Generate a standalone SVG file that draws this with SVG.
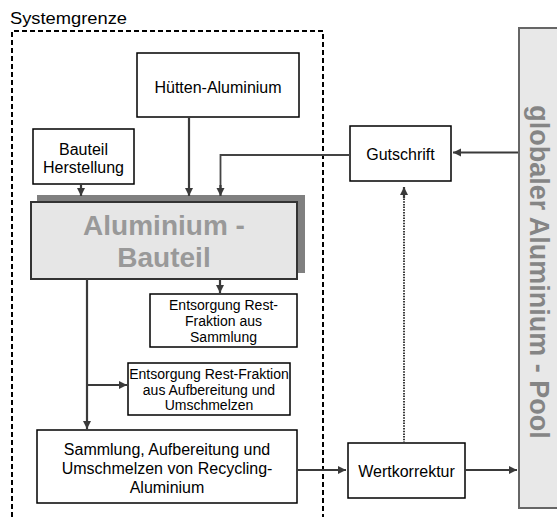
<svg xmlns="http://www.w3.org/2000/svg" width="557" height="517" viewBox="0 0 557 517">
<style>
text{font-family:"Liberation Sans",Arial,sans-serif;fill:#000;text-anchor:middle}
.box{fill:#fff;stroke:#000;stroke-width:1.5}
.t16{font-size:16px}
.t14{font-size:14px}
.c{fill:none;stroke:#3a3a3a;stroke-width:2.2}
.thin{fill:none;stroke:#444;stroke-width:1.8}
.dot{fill:none;stroke:#3a3a3a;stroke-width:2;stroke-dasharray:1.5 1.2}
</style>
<defs>
<marker id="ah" markerUnits="userSpaceOnUse" markerWidth="10" markerHeight="10" refX="8" refY="4" orient="auto">
<path d="M0,0 L8,4 L0,8 Z" fill="#3a3a3a"/>
</marker>
</defs>
<rect width="557" height="517" fill="#fff"/>
<g id="systemgrenze">
<text x="10" y="24" style="text-anchor:start;font-size:16px" textLength="117" lengthAdjust="spacingAndGlyphs">Systemgrenze</text>
<path d="M12,517 V31 H323 V517" fill="none" stroke="#000" stroke-width="2" stroke-dasharray="5 3"/>
</g>
<g id="pool">
<rect x="519" y="28" width="45" height="480" fill="#e8e8e8" stroke="#666" stroke-width="2"/>
<text transform="translate(530,272) rotate(90)" style="font-size:27px;font-weight:bold;fill:#858585">globaler Aluminium - Pool</text>
</g>
<g id="huetten">
<rect class="box" x="137" y="53" width="162" height="64"/>
<text class="t16" x="218" y="93">Hütten-Aluminium</text>
</g>
<g id="bauteil-herstellung">
<rect class="box" x="33" y="129" width="101" height="55"/>
<text class="t16" x="83.5" y="155">Bauteil</text>
<text class="t16" x="83.5" y="173">Herstellung</text>
</g>
<g id="aluminium-bauteil">
<rect x="37" y="195" width="268" height="78" fill="#808080"/>
<rect x="31" y="202" width="266" height="77" fill="#e6e6e6" stroke="#333" stroke-width="2"/>
<text x="164" y="235" style="font-size:28px;font-weight:bold;fill:#999">Aluminium -</text>
<text x="164" y="267" style="font-size:28px;font-weight:bold;fill:#999">Bauteil</text>
</g>
<g id="gutschrift">
<rect class="box" x="350" y="126" width="101" height="55"/>
<text class="t16" x="400.5" y="160">Gutschrift</text>
</g>
<g id="entsorgung-sammlung">
<rect class="box" x="150" y="294" width="147" height="53"/>
<text class="t14" x="223.5" y="310">Entsorgung Rest-</text>
<text class="t14" x="223.5" y="326">Fraktion aus</text>
<text class="t14" x="223.5" y="342">Sammlung</text>
</g>
<g id="entsorgung-aufbereitung">
<rect class="box" x="128" y="363" width="162" height="52"/>
<text class="t14" x="209" y="379">Entsorgung Rest-Fraktion</text>
<text class="t14" x="209" y="394.5">aus Aufbereitung und</text>
<text class="t14" x="209" y="410">Umschmelzen</text>
</g>
<g id="sammlung">
<rect class="box" x="37" y="430" width="260" height="73"/>
<text class="t16" x="167" y="455">Sammlung, Aufbereitung und</text>
<text class="t16" x="167" y="474">Umschmelzen von Recycling-</text>
<text class="t16" x="167" y="493">Aluminium</text>
</g>
<g id="wertkorrektur">
<rect class="box" x="348" y="443" width="117" height="55"/>
<text class="t16" x="406.5" y="477">Wertkorrektur</text>
</g>
<g id="connectors">
<path class="c" d="M81,184 V196" marker-end="url(#ah)"/>
<path class="c" d="M189,117 V196" marker-end="url(#ah)"/>
<path class="thin" d="M350,155 H220.5 V190"/>
<path class="c" d="M220.5,185 V196" marker-end="url(#ah)"/>
<path class="c" d="M220,279 V293" marker-end="url(#ah)"/>
<path class="c" d="M87,279 V429" marker-end="url(#ah)"/>
<path class="c" d="M87,385 H127" marker-end="url(#ah)"/>
<path class="c" d="M297,470 H346" marker-end="url(#ah)"/>
<path class="c" d="M465,470 H517" marker-end="url(#ah)"/>
<path class="c" d="M518,152.5 H453" marker-end="url(#ah)"/>
<path class="dot" d="M404,443 V196"/>
<path class="c" d="M404,198 V187" marker-end="url(#ah)"/>
</g>
</svg>
